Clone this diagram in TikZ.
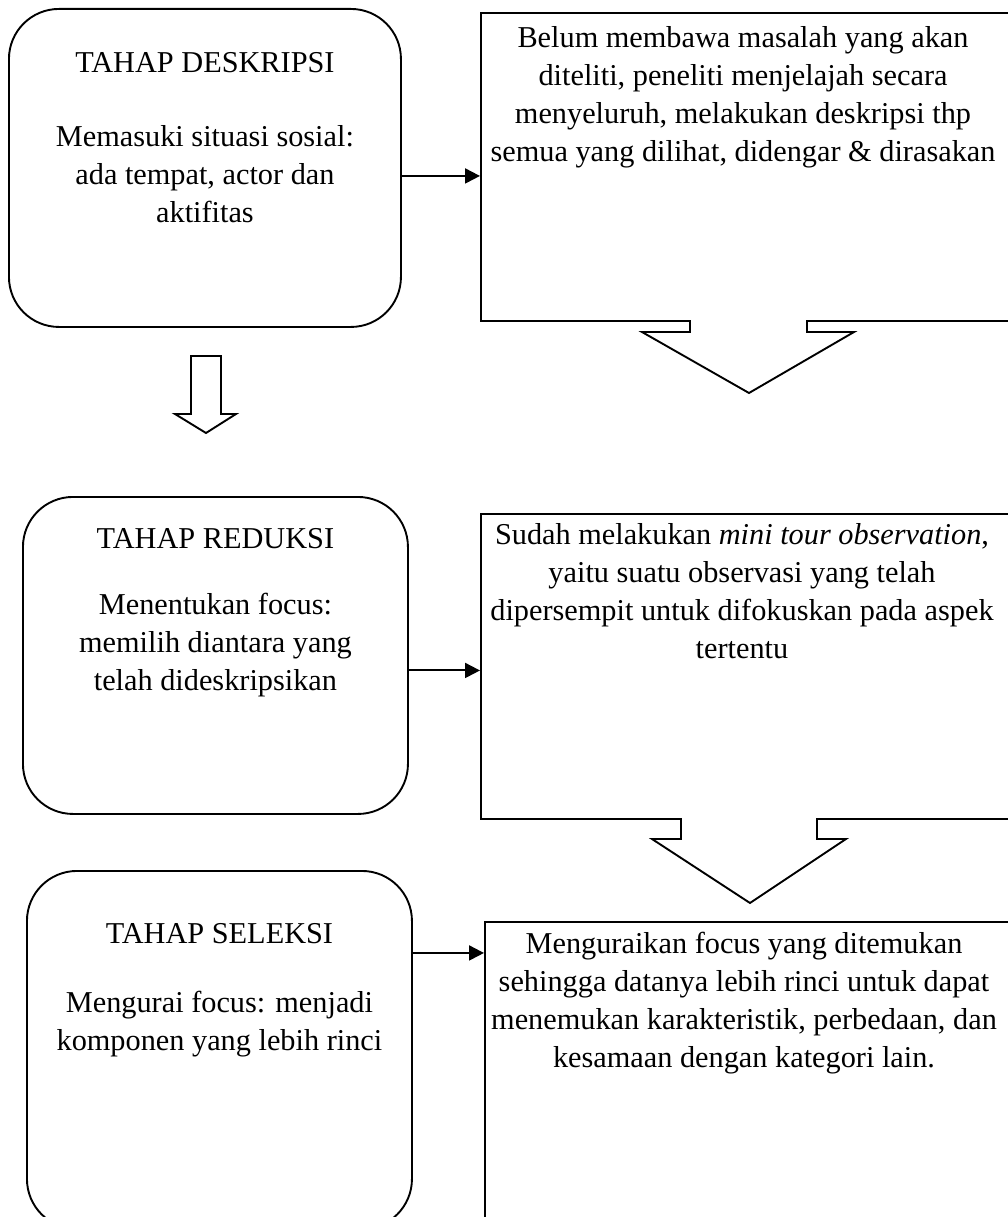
\documentclass[tikz,border=0pt]{standalone}
\usepackage{fontspec}
\setmainfont{Liberation Serif}
\usetikzlibrary{
    arrows.meta,
    positioning,
    calc
}
\tikzset{
  stage/.style = {draw, rounded corners=50pt, line width=1.9pt,
                  anchor=north west, inner sep=0pt},
  note/.style  = {draw, line width=1.9pt, anchor=north west, inner sep=0pt},
  txt/.style   = {align=center, inner sep=0pt,
                  font=\fontsize{30.3pt}{38pt}\selectfont},
  arr/.style   = {-{Triangle[length=15pt,width=15pt]}, line width=2pt},
  blk/.style   = {line width=1.9pt, line join=miter}
}

\begin{document}
\begin{tikzpicture}[x=1pt, y=-1pt]
  \useasboundingbox (0,0) rectangle (1008,1217);
  \clip (0,0) rectangle (1008,1217);

  % left column
  \node[stage, minimum width=392pt, minimum height=318pt] (desk) at (8,8) {};
  \node[stage, minimum width=385pt, minimum height=317pt] (redu) at (22,496) {};
  \node[stage, minimum width=385pt, minimum height=358pt] (sele) at (26,870) {};

  \node[txt, below=44pt of desk.north] (deskH) {TAHAP DESKRIPSI};
  \node[txt, below=117pt of desk.north] (deskT) {Memasuki situasi sosial:\\ ada tempat, actor dan\\ aktifitas};
  \node[txt, below=32pt of redu.north] (reduH) {TAHAP REDUKSI};
  \node[txt, below=97pt of redu.north] (reduT) {Menentukan focus:\\ memilih diantara yang\\ telah dideskripsikan};
  \node[txt, below=53pt of sele.north] (seleH) {TAHAP SELEKSI};
  \node[txt, below=121pt of sele.north] (seleT) {Mengurai focus: menjadi\\ komponen yang lebih rinci};

  % right column
  \node[note, minimum width=600pt, minimum height=308pt] (desc) at (480,12) {};
  \node[note, minimum width=600pt, minimum height=305pt] (mini) at (480,513) {};
  \node[note, minimum width=600pt, minimum height=400pt] (urai) at (484,921) {};

  \node[txt, below=14pt of desc.north west, xshift=263pt] (descT) {Belum membawa masalah yang akan\\ diteliti, peneliti menjelajah secara\\ menyeluruh, melakukan deskripsi thp\\ semua yang dilihat, didengar \& dirasakan};
  \node[txt, below=10pt of mini.north west, xshift=262pt] (miniT) {Sudah melakukan \textit{mini tour observation},\\ yaitu suatu observasi yang telah\\ dipersempit untuk difokuskan pada aspek\\ tertentu};
  \node[txt, below=11pt of urai.north west, xshift=260pt] (uraiT) {Menguraikan focus yang ditemukan\\ sehingga datanya lebih rinci untuk dapat\\ menemukan karakteristik, perbedaan, dan\\ kesamaan dengan kategori lain.};

  % arrows
  \draw[arr] ([yshift=-8pt]desk.east) -- ([yshift=-8pt]desk.east -| desc.west);
  \draw[arr] ([yshift=-15pt]redu.east) -- ([yshift=-15pt]redu.east -| mini.west);
  \draw[arr] ([yshift=97pt]sele.east) -- ([yshift=97pt]sele.east -| urai.west);

  % block arrows
  \draw[blk] (191,356) -- (221,356) -- (221,414) -- (236,414) -- (206,433)
    -- (175,414) -- (191,414) -- cycle;
  \fill[white] (691,316) rectangle (806,324);
  \draw[blk] (690,320) -- (690,332) -- (642,332) -- (749,393) -- (854,332)
    -- (807,332) -- (807,320);
  \fill[white] (682,814) rectangle (816,822);
  \draw[blk] (681,818) -- (681,839) -- (652,839) -- (750,903) -- (846,839)
    -- (817,839) -- (817,818);
\end{tikzpicture}
\end{document}
